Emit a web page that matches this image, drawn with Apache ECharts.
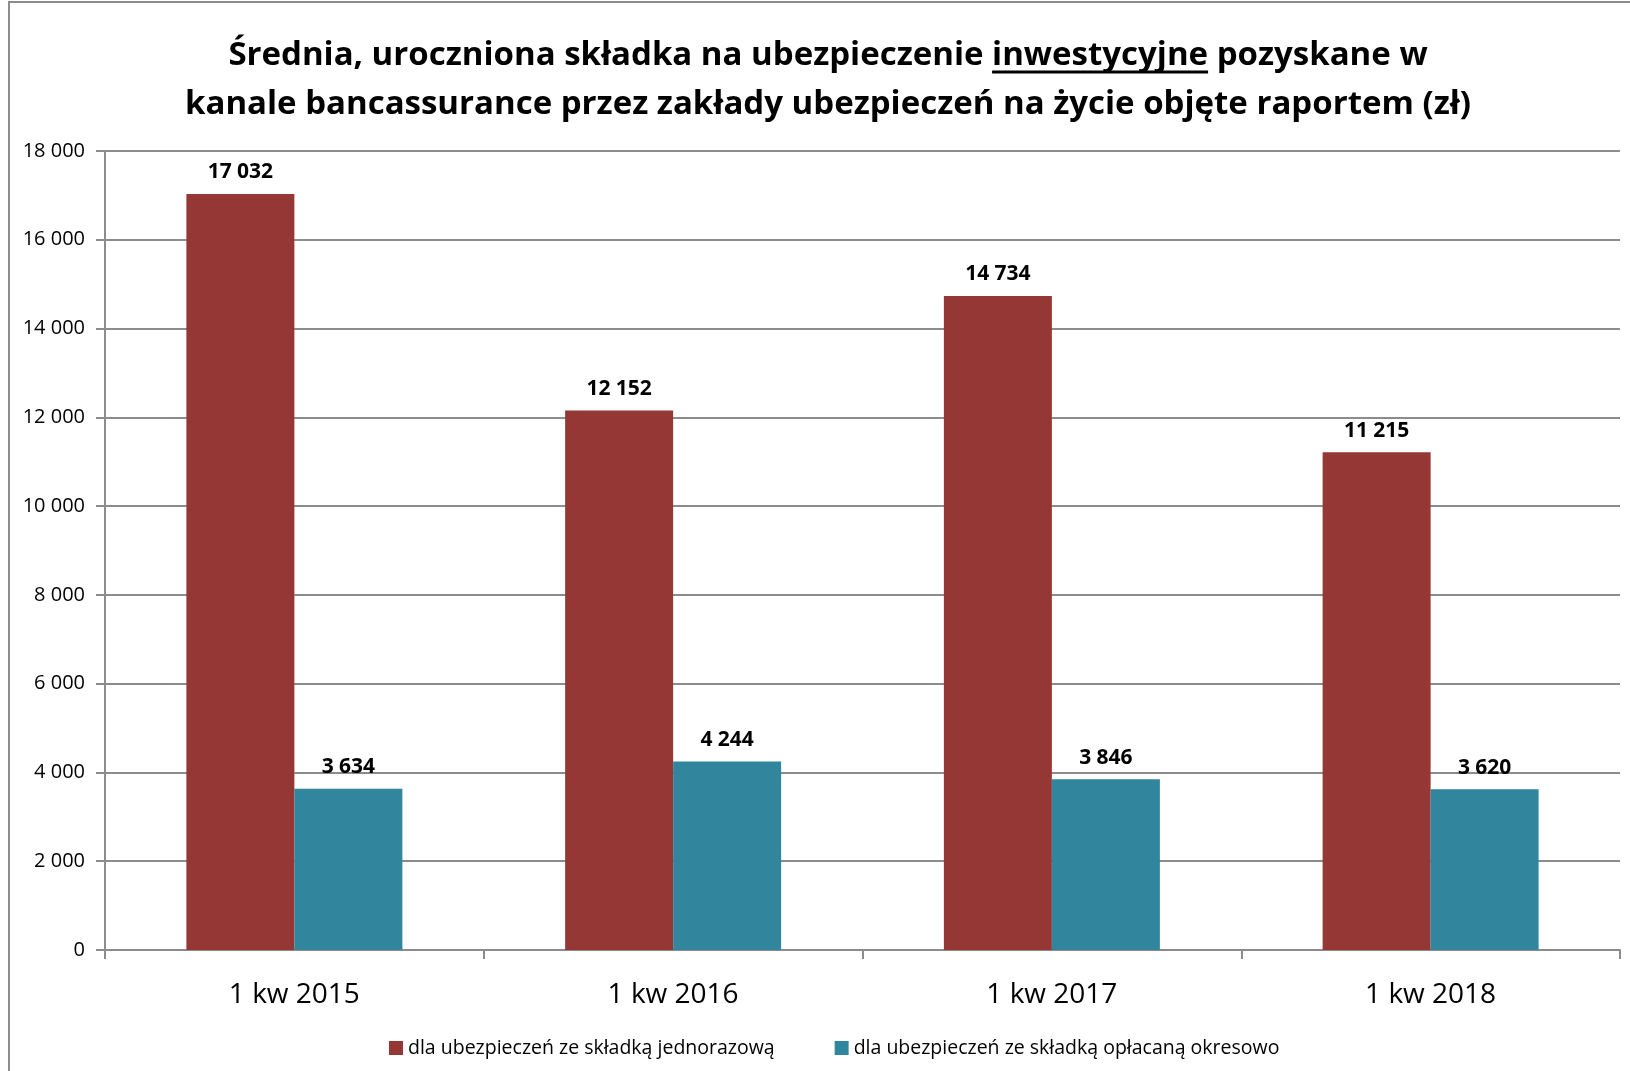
<!DOCTYPE html>
<html>
<head>
<meta charset="utf-8">
<script src="https://cdn.jsdelivr.net/npm/echarts@6/dist/echarts.min.js"></script>
<style>
  html, body { margin: 0; padding: 0; background: #fff; }
  #main { width: 1630px; height: 1071px; }
</style>
</head>
<body>
<div id="main"></div>
<script>
// data
const categories = ['1 kw 2015', '1 kw 2016', '1 kw 2017', '1 kw 2018'];
const singlePremium = [17032, 12152, 14734, 11215];
const regularPremium = [3634, 4244, 3846, 3620];
const seriesNames = [
    'dla ubezpieczeń ze składką jednorazową',
    'dla ubezpieczeń ze składką opłacaną okresowo'
];

const titleLine1Pre = 'Średnia, uroczniona składka na ubezpieczenie ';
const titleUnderlined = 'inwestycyjne';
const titleLine1Post = ' pozyskane w';
const titleLine2 = 'kanale bancassurance przez zakłady ubezpieczeń na życie objęte raportem (zł)';

const titleFont = 'bold 33px "Open Sans"';
const titleCenterX = 828; // title sits a bit right of the page centre

// Polish style thousands separator: "17 032"
function fmt(v) {
    return String(v).replace(/\B(?=(\d{3})+(?!\d))/g, ' ');
}

let myChart = echarts.init(document.getElementById('main'));

let labelStyle = {
    show: true,
    position: 'top',
    distance: 11,
    fontFamily: 'Open Sans',
    fontSize: 21,
    fontWeight: 'bold',
    color: '#000',
    formatter: p => fmt(p.value)
};

let options = {
    backgroundColor: '#fff',
    animation: false,
    title: {
        text: titleLine1Pre + '{u|' + titleUnderlined + '}' + titleLine1Post + '\n' + titleLine2,
        left: titleCenterX - 5,
        top: 26,
        textAlign: 'center',
        textStyle: {
            fontFamily: 'Open Sans',
            fontSize: 33,
            fontWeight: 'bold',
            color: '#000',
            lineHeight: 49,
            rich: {
                u: { fontFamily: 'Open Sans', fontSize: 33, fontWeight: 'bold', color: '#000', lineHeight: 49 }
            }
        }
    },
    legend: {
        data: seriesNames,
        left: 384,
        top: 1033,
        itemWidth: 14,
        itemHeight: 14,
        itemGap: 60,
        icon: 'rect',
        textStyle: { fontFamily: 'Open Sans', fontSize: 19.5, color: '#000' }
    },
    grid: { left: 105, right: 10, top: 151, bottom: 121 },
    xAxis: {
        type: 'category',
        data: categories,
        axisLine: { show: true, lineStyle: { color: '#8c8c8c', width: 2 } },
        axisTick: { show: true, length: 9, lineStyle: { color: '#8c8c8c', width: 2 } },
        axisLabel: { fontFamily: 'Open Sans', fontSize: 28, color: '#000', margin: 31 }
    },
    yAxis: {
        type: 'value',
        min: 0,
        max: 18000,
        interval: 2000,
        axisLine: { show: true, lineStyle: { color: '#8c8c8c', width: 2 } },
        axisTick: { show: true, length: 9, lineStyle: { color: '#8c8c8c', width: 2 } },
        axisLabel: { fontFamily: 'Open Sans', fontSize: 20, color: '#000', margin: 20, formatter: fmt },
        splitLine: { lineStyle: { color: '#8c8c8c', width: 2 } }
    },
    series: [
        {
            name: seriesNames[0],
            type: 'bar',
            data: singlePremium,
            barWidth: 108,
            barGap: '0%',
            itemStyle: { color: '#953735' },
            label: labelStyle
        },
        {
            name: seriesNames[1],
            type: 'bar',
            data: regularPremium,
            barWidth: 108,
            barGap: '0%',
            itemStyle: { color: '#31859c' },
            label: labelStyle
        }
    ]
};

myChart.setOption(options);

// underline under "inwestycyjne": measure the title line to find where the word sits
let ctx = document.createElement('canvas').getContext('2d');
ctx.font = titleFont;
let w1 = ctx.measureText(titleLine1Pre + titleUnderlined + titleLine1Post).width;
let wPre = ctx.measureText(titleLine1Pre).width;
let wU = ctx.measureText(titleUnderlined).width;
let x0 = titleCenterX - w1 / 2 + wPre;

myChart.setOption({
    graphic: [
        {
            type: 'rect',
            shape: { x: 9, y: 2, width: 1640, height: 1100 },
            style: { fill: 'none', stroke: '#8c8c8c', lineWidth: 2 },
            silent: true
        },
        {
            type: 'line',
            shape: { x1: x0, y1: 72, x2: x0 + wU, y2: 72 },
            style: { stroke: '#000', lineWidth: 3 },
            silent: true
        }
    ]
});
</script>
</body>
</html>
